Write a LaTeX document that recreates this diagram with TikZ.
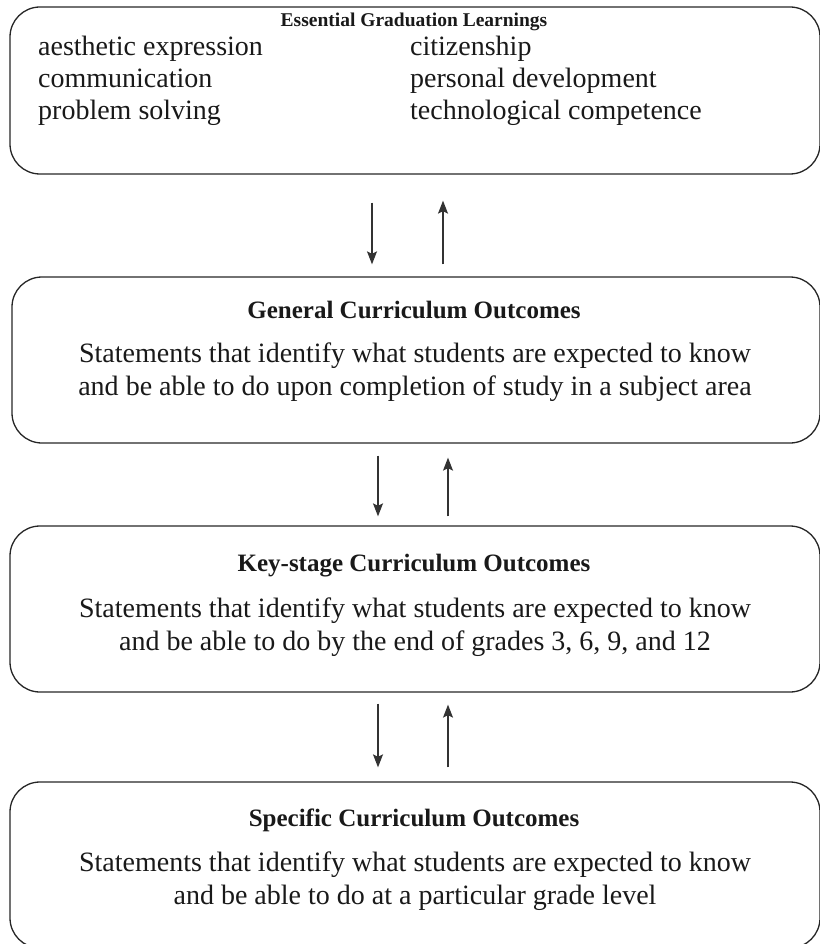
\documentclass[tikz,border=0pt]{standalone}
\usepackage{fontspec}
\setmainfont{Liberation Serif}
\usetikzlibrary{arrows.meta}
\begin{document}
\begin{tikzpicture}[x=1pt,y=-1pt,
  box/.style={draw=black!85, line width=1.3pt, rounded corners=30pt, inner sep=0pt},
  ttl/.style={anchor=base, font=\fontsize{25}{30}\selectfont\bfseries, text=black!90, inner sep=0pt},
  ttlsmall/.style={ttl, font=\fontsize{19.5}{24}\selectfont\bfseries},
  body/.style={anchor=base, font=\fontsize{28}{33}\selectfont, text=black!90, inner sep=0pt},
  arr/.style={draw=black!80, line width=1.3pt, -{Stealth[length=13pt,width=10pt,inset=2.5pt]}}]
\useasboundingbox (0,0) rectangle (819,944);
% boxes
\node[box, minimum width=810pt, minimum height=167pt] (b1) at (415,90.5) {};
\node[box, minimum width=808pt, minimum height=166pt] (b2) at (416,360) {};
\node[box, minimum width=810pt, minimum height=166pt] (b3) at (415,609) {};
\node[box, minimum width=810pt, minimum height=166pt] (b4) at (415,865) {};
% box 1 text
\node[ttlsmall] (t1) at (414,27) {Essential Graduation Learnings};
\node[body, anchor=base west] (l1) at (38,56) {aesthetic expression};
\node[body, anchor=base west] (l2) at (38,88) {communication};
\node[body, anchor=base west] (l3) at (38,120) {problem solving};
\node[body, anchor=base west] (r1) at (410,56) {citizenship};
\node[body, anchor=base west] (r2) at (410,88) {personal development};
\node[body, anchor=base west] (r3) at (410,120) {technological competence};
% box 2 text
\node[ttl] (t2) at (414,318) {General Curriculum Outcomes};
\node[body] (s2a) at (415,362) {Statements that identify what students are expected to know};
\node[body] (s2b) at (415,395) {and be able to do upon completion of study in a subject area};
% box 3 text
\node[ttl] (t3) at (414,571) {Key-stage Curriculum Outcomes};
\node[body] (s3a) at (415,617) {Statements that identify what students are expected to know};
\node[body] (s3b) at (415,650) {and be able to do by the end of grades 3, 6, 9, and 12};
% box 4 text
\node[ttl] (t4) at (414,826) {Specific Curriculum Outcomes};
\node[body] (s4a) at (415,871) {Statements that identify what students are expected to know};
\node[body] (s4b) at (415,904) {and be able to do at a particular grade level};
% arrow columns
\coordinate (d1) at (372,0);
\coordinate (u1) at (443,0);
\coordinate (d2) at (378,0);
\coordinate (u2) at (448,0);
% arrows
\draw[arr, shorten <=28pt, shorten >=12pt] (b1.south -| d1) -- (b2.north -| d1);
\draw[arr, shorten <=12pt, shorten >=26pt] (b2.north -| u1) -- (b1.south -| u1);
\draw[arr, shorten <=12pt, shorten >=9pt] (b2.south -| d2) -- (b3.north -| d2);
\draw[arr, shorten <=9pt, shorten >=14pt] (b3.north -| u2) -- (b2.south -| u2);
\draw[arr, shorten <=11pt, shorten >=14pt] (b3.south -| d2) -- (b4.north -| d2);
\draw[arr, shorten <=14pt, shorten >=12pt] (b4.north -| u2) -- (b3.south -| u2);
\end{tikzpicture}
\end{document}
